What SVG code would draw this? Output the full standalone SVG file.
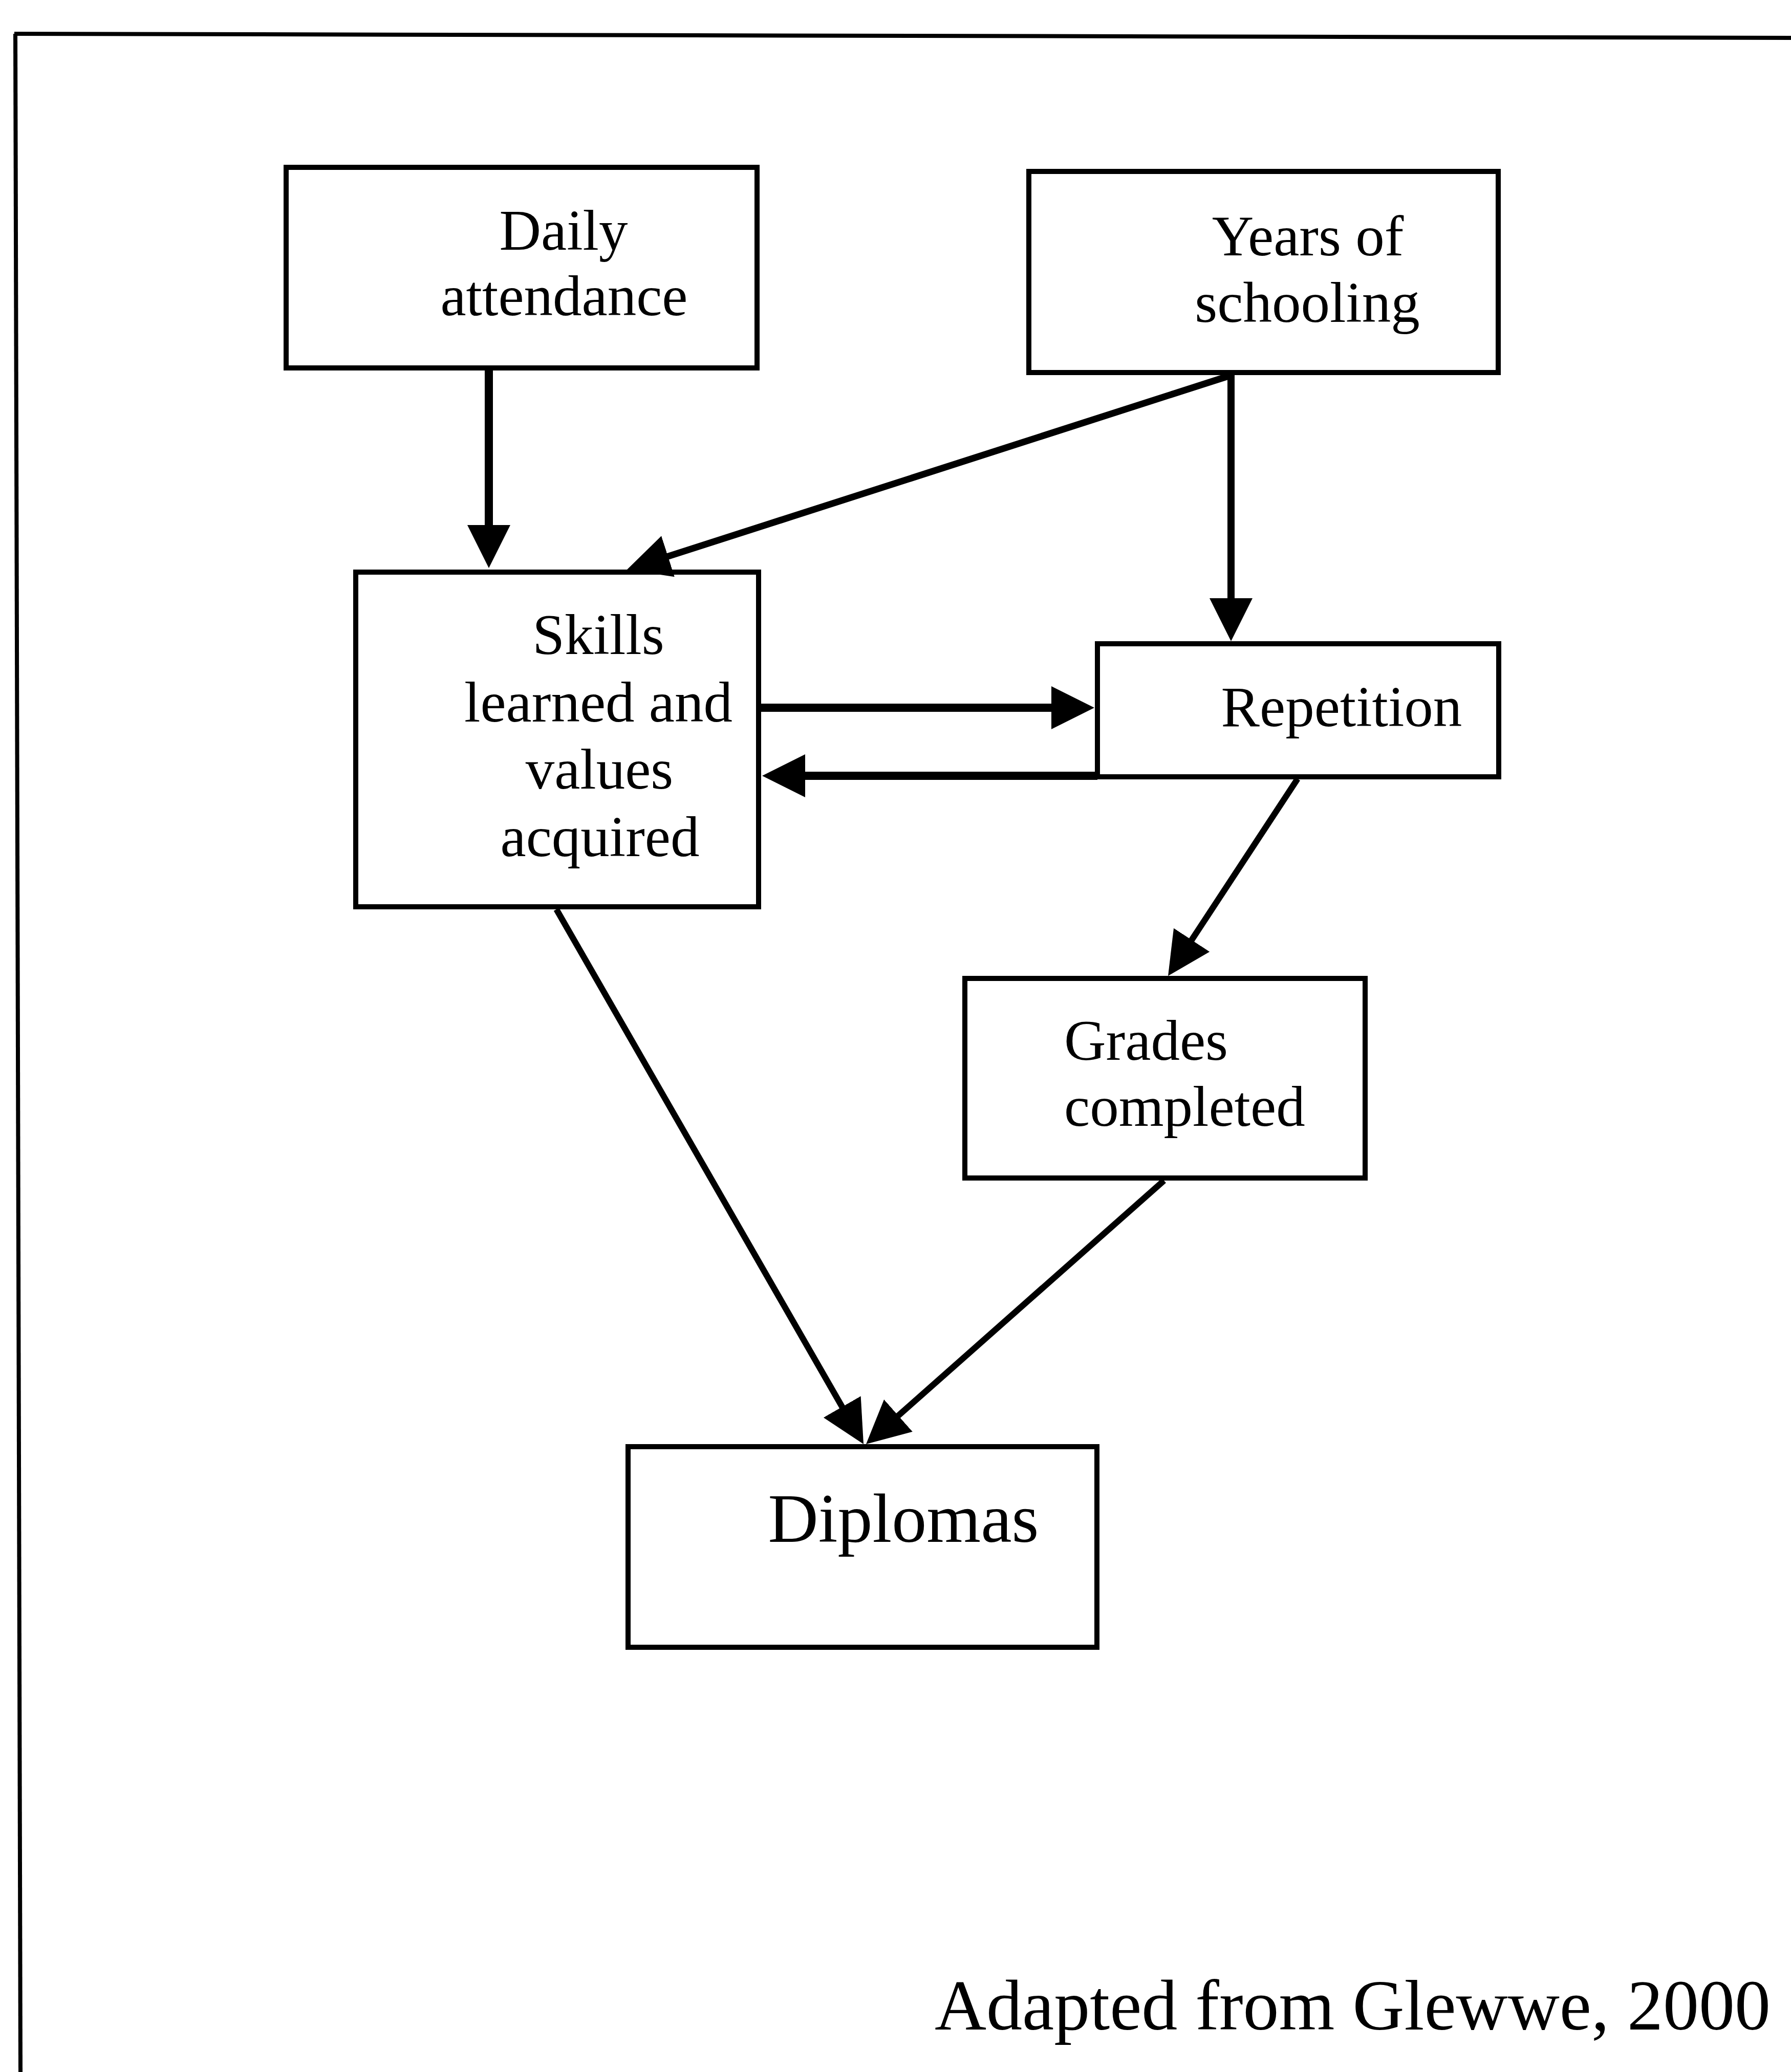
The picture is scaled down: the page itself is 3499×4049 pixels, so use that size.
<svg xmlns="http://www.w3.org/2000/svg" width="3499" height="4049" viewBox="0 0 3499 4049">
<style>
.box{fill:#fff;stroke:#000;stroke-width:10}
.t{font-family:"Liberation Serif","Times New Roman",serif;font-size:113px;fill:#000}
.c{text-anchor:middle}
.ln{stroke:#000;fill:none}
.frame{stroke:#000;fill:none;stroke-width:8}
</style>
<defs>
<marker id="ah" viewBox="0 0 84 84" markerUnits="userSpaceOnUse" markerWidth="84" markerHeight="84" refX="54" refY="42" orient="auto">
<path d="M0,0 L84,42 L0,84 Z" fill="#000"/>
</marker>
</defs>
<rect x="0" y="0" width="3499" height="4049" fill="#fff"/>
<g id="frame">
<path class="frame" d="M28 66 L3499 74"/>
<path class="frame" d="M30 66 L40 4049"/>
</g>
<g id="daily">
<rect class="box" x="559" y="327" width="920" height="392"/>
<text class="t c" x="1101" y="488">Daily</text>
<text class="t c" x="1102" y="616">attendance</text>
</g>
<g id="years">
<rect class="box" x="2010" y="335" width="917" height="393"/>
<text class="t c" x="2555" y="499">Years of</text>
<text class="t c" x="2554" y="629">schooling</text>
</g>
<g id="skills">
<rect class="box" x="695" y="1118" width="787" height="654"/>
<text class="t c" x="1169" y="1278">Skills</text>
<text class="t c" x="1169" y="1410">learned and</text>
<text class="t c" x="1171" y="1541">values</text>
<text class="t c" x="1172" y="1673">acquired</text>
</g>
<g id="repetition">
<rect class="box" x="2144" y="1258" width="784" height="260"/>
<text class="t c" x="2621" y="1419">Repetition</text>
</g>
<g id="grades">
<rect class="box" x="1885" y="1912" width="782" height="390"/>
<text class="t" x="2079" y="2071">Grades</text>
<text class="t" x="2079" y="2200">completed</text>
</g>
<g id="diplomas">
<rect class="box" x="1227" y="2827" width="916" height="392"/>
<text class="t c" x="1765" y="3013" style="font-size:136px">Diplomas</text>
</g>
<g id="connectors">
<line class="ln" x1="955" y1="724" x2="955" y2="1080" stroke-width="16" marker-end="url(#ah)"/>
<line class="ln" x1="2400" y1="735" x2="1253.6" y2="1103.8" stroke-width="13" marker-end="url(#ah)"/>
<line class="ln" x1="2405" y1="733" x2="2405" y2="1223" stroke-width="14" marker-end="url(#ah)"/>
<line class="ln" x1="1487" y1="1383" x2="2108" y2="1383" stroke-width="16" marker-end="url(#ah)"/>
<line class="ln" x1="2144" y1="1516" x2="1519" y2="1516" stroke-width="16" marker-end="url(#ah)"/>
<line class="ln" x1="2535" y1="1522" x2="2298.5" y2="1881.9" stroke-width="12" marker-end="url(#ah)"/>
<line class="ln" x1="1087" y1="1777" x2="1672.1" y2="2796" stroke-width="12" marker-end="url(#ah)"/>
<line class="ln" x1="2274" y1="2307" x2="1714.5" y2="2802.1" stroke-width="12" marker-end="url(#ah)"/>
</g>
<text id="caption" class="t" x="1826" y="3966" style="font-size:140px">Adapted from Glewwe, 2000</text>
</svg>
